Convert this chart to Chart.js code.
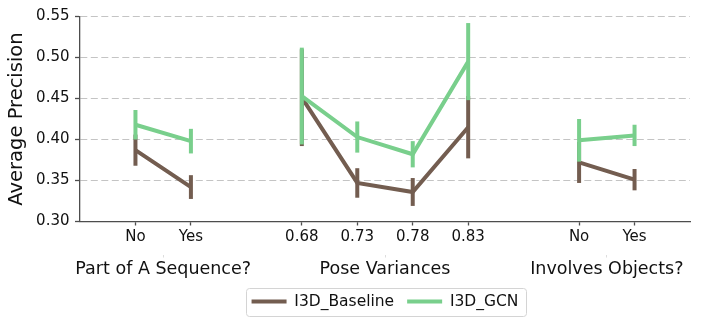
<!DOCTYPE html>
<html>
<head>
<meta charset="utf-8">
<script src="https://cdn.jsdelivr.net/npm/chart.js@4.4.1/dist/chart.umd.min.js"></script>
<style>
  html, body { margin: 0; padding: 0; background: #fff; }
  canvas { display: block; }
</style>
</head>
<body>
<canvas id="myChart" width="705" height="326"></canvas>
<script>
// categories per group
const seqCats = ['No', 'Yes'];
const poseCats = ['0.68', '0.73', '0.78', '0.83'];
const objCats = ['No', 'Yes'];
const groupNames = ['Part of A Sequence?', 'Pose Variances', 'Involves Objects?'];

// I3D_Baseline
const baseSeq = [0.387, 0.342];
const baseSeqErr = [0.019, 0.0145];
const basePose = [0.451, 0.347, 0.336, 0.415];
const basePoseErr = [0.059, 0.018, 0.017, 0.038];
const baseObj = [0.372, 0.351];
const baseObjErr = [0.025, 0.013];

// I3D_GCN
const gcnSeq = [0.418, 0.398];
const gcnSeqErr = [0.018, 0.015];
const gcnPose = [0.453, 0.403, 0.382, 0.495];
const gcnPoseErr = [0.059, 0.019, 0.016, 0.047];
const gcnObj = [0.399, 0.405];
const gcnObjErr = [0.026, 0.013];

const yTicks = [0.30, 0.35, 0.40, 0.45, 0.50, 0.55];

const baseColor = '#735d50';
const gcnColor = '#79cf8c';
const spineColor = '#4d4d4d';
const font = 'DejaVu Sans';

// build label list with blank slots between the groups
const groups = [seqCats, poseCats, objCats];
const xLabels = [''];
const groupCenters = [];
groups.forEach(g => {
    const start = xLabels.length;
    g.forEach(c => xLabels.push(c));
    groupCenters.push(start + (g.length - 1) / 2);
    xLabels.push('');
});

function spread(parts) {
    const out = [null];
    parts.forEach(p => { p.forEach(v => out.push(v)); out.push(null); });
    return out;
}

const baseData = spread([baseSeq, basePose, baseObj]);
const baseErr = spread([baseSeqErr, basePoseErr, baseObjErr]);
const gcnData = spread([gcnSeq, gcnPose, gcnObj]);
const gcnErr = spread([gcnSeqErr, gcnPoseErr, gcnObjErr]);

const errorBars = {
    id: 'errorBars',
    beforeDatasetDraw(chart, args) {
        const ds = chart.data.datasets[args.index];
        const errs = ds.errors;
        if (!errs) return;
        const xs = chart.scales.x, ys = chart.scales.y;
        const c = chart.ctx;
        c.save();
        c.strokeStyle = ds.borderColor;
        c.lineWidth = 4;
        c.lineCap = 'butt';
        ds.data.forEach((v, i) => {
            if (v === null) return;
            const px = xs.getPixelForValue(i);
            c.beginPath();
            c.moveTo(px, ys.getPixelForValue(v + errs[i]));
            c.lineTo(px, ys.getPixelForValue(v - errs[i]));
            c.stroke();
        });
        c.restore();
    }
};

const legendFrame = {
    id: 'legendFrame',
    afterDraw(chart) {
        const boxes = chart.legend.legendHitBoxes;
        if (!boxes || !boxes.length) return;
        const first = boxes[0], last = boxes[boxes.length - 1];
        const l = first.left - 6, r = last.left + last.width + 7;
        const t = first.top - 6, b = first.top + first.height + 6;
        const c = chart.ctx;
        c.save();
        c.strokeStyle = '#d4d4d4';
        c.lineWidth = 1;
        c.beginPath();
        c.roundRect(Math.round(l) + 0.5, Math.round(t) + 0.5, Math.round(r - l), Math.round(b - t), 3);
        c.stroke();
        c.restore();
    }
};

const ctx = document.getElementById('myChart').getContext('2d');
const myChart = new Chart(ctx, {
    type: 'line',
    data: {
        labels: xLabels,
        datasets: [{
            label: 'I3D_Baseline',
            data: baseData,
            errors: baseErr,
            borderColor: baseColor,
            backgroundColor: baseColor,
            borderWidth: 4,
            pointRadius: 0,
            tension: 0,
            spanGaps: false,
            order: 2
        }, {
            label: 'I3D_GCN',
            data: gcnData,
            errors: gcnErr,
            borderColor: gcnColor,
            backgroundColor: gcnColor,
            borderWidth: 4,
            pointRadius: 0,
            tension: 0,
            spanGaps: false,
            order: 1
        }]
    },
    options: {
        responsive: false,
        animation: false,
        layout: { padding: { top: 16.5, right: 15, bottom: 6.75, left: 0 } },
        plugins: {
            tooltip: { enabled: false },
            legend: {
                position: 'bottom',
                fullSize: false,
                labels: {
                    usePointStyle: true,
                    pointStyle: 'line',
                    pointStyleWidth: 35,
                    padding: 13,
                    color: '#111',
                    font: { family: font, size: 15.5 },
                    sort: (a, b) => a.datasetIndex - b.datasetIndex
                }
            }
        },
        scales: {
            x: {
                type: 'category',
                offset: false,
                weight: 0,
                afterFit: s => { s.height = 33; },
                grid: {
                    drawOnChartArea: false,
                    tickLength: 4,
                    tickWidth: 1.3,
                    tickColor: c => (xLabels[c.index] ? spineColor : 'rgba(0,0,0,0)')
                },
                border: { color: spineColor, width: 1.3 },
                ticks: {
                    autoSkip: false,
                    maxRotation: 0,
                    padding: 3,
                    color: '#111',
                    font: { family: font, size: 15 }
                }
            },
            x2: {
                type: 'linear',
                position: 'bottom',
                weight: 1,
                min: 0,
                max: xLabels.length - 1,
                afterFit: s => { s.height = 26.25; },
                afterBuildTicks: s => { s.ticks = groupCenters.map(v => ({ value: v })); },
                grid: {
                    drawOnChartArea: false,
                    tickLength: 3,
                    tickColor: '#dddddd'
                },
                border: { display: false },
                ticks: {
                    autoSkip: false,
                    maxRotation: 0,
                    padding: 1,
                    color: '#111',
                    font: { family: font, size: 17.5 },
                    callback: (v, i) => groupNames[i]
                }
            },
            y: {
                min: 0.30,
                max: 0.55,
                afterFit: s => { s.width = 80; },
                afterBuildTicks: s => { s.ticks = yTicks.map(v => ({ value: v })); },
                grid: {
                    color: '#c4c4c4',
                    lineWidth: 1,
                    tickLength: 5,
                    tickWidth: 1.3,
                    tickColor: spineColor,
                    tickBorderDash: []
                },
                border: { color: spineColor, width: 1.3, dash: [7, 3.5] },
                ticks: {
                    padding: 5.5,
                    color: '#111',
                    font: { family: font, size: 15 },
                    callback: v => v.toFixed(2)
                },
                title: {
                    display: true,
                    text: 'Average Precision',
                    color: '#111',
                    padding: { top: 5, bottom: 0 },
                    font: { family: font, size: 19.5 }
                }
            }
        }
    },
    plugins: [errorBars, legendFrame]
});
</script>
</body>
</html>
